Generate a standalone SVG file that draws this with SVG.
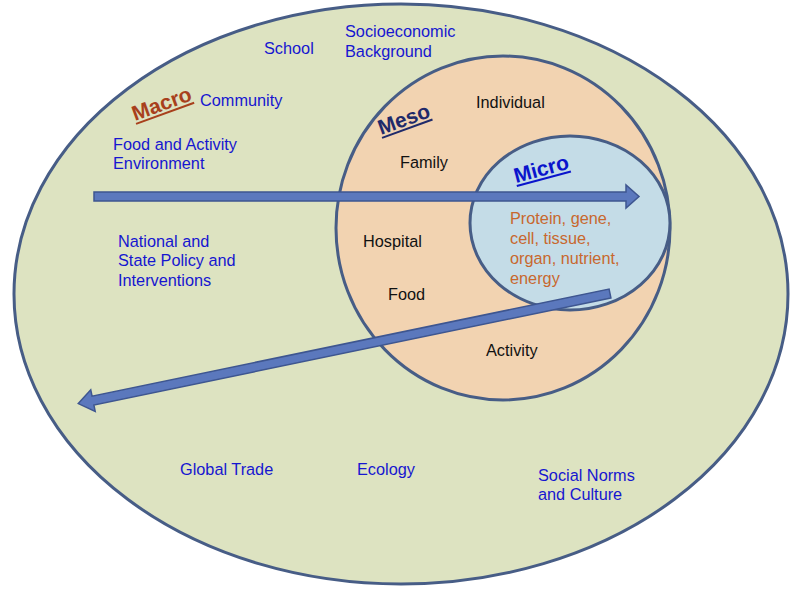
<svg xmlns="http://www.w3.org/2000/svg" width="798" height="589" viewBox="0 0 798 589">
<style>
.t{font-family:"Liberation Sans",Arial,sans-serif;font-size:16.3px}
.b{fill:#1616d0}
.k{fill:#111}
.o{fill:#c8682e}
.h{font-family:"Liberation Sans",Arial,sans-serif;font-size:21px;font-weight:bold;text-decoration:underline}
.arr{fill:#5b78bd;stroke:#3e5690;stroke-width:1.5}
.ring{stroke:#475d86;stroke-width:3}
</style>
<rect width="798" height="589" fill="#ffffff"/>
<g id="macro">
<ellipse class="ring" cx="401" cy="294" rx="387" ry="290" fill="#dde3c1"/>
<text class="h" x="0" y="0" fill="#a8401c" transform="translate(135,121) rotate(-20)">Macro</text>
<text class="t b" x="264" y="54">School</text>
<text class="t b" x="345" y="37">Socioeconomic</text>
<text class="t b" x="345" y="57">Background</text>
<text class="t b" x="200" y="106">Community</text>
<text class="t b" x="113" y="150">Food and Activity</text>
<text class="t b" x="113" y="169">Environment</text>
<text class="t b" x="118" y="247">National and</text>
<text class="t b" x="118" y="266">State Policy and</text>
<text class="t b" x="118" y="286">Interventions</text>
<text class="t b" x="180" y="475">Global Trade</text>
<text class="t b" x="357" y="475">Ecology</text>
<text class="t b" x="538" y="481">Social Norms</text>
<text class="t b" x="538" y="500">and Culture</text>
</g>
<g id="meso">
<ellipse class="ring" cx="503" cy="228" rx="167" ry="172" fill="#f2d3b1"/>
<text class="h" x="0" y="0" fill="#1f2a6a" transform="translate(381,135) rotate(-20)">Meso</text>
<text class="t k" x="476" y="108">Individual</text>
<text class="t k" x="400" y="168">Family</text>
<text class="t k" x="363" y="247">Hospital</text>
<text class="t k" x="388" y="300">Food</text>
<text class="t k" x="486" y="356">Activity</text>
</g>
<g id="micro">
<ellipse class="ring" cx="570" cy="223" rx="100" ry="87" fill="#c4dce7"/>
<text class="h" x="0" y="0" fill="#0a14cc" transform="translate(516,183) rotate(-15)">Micro</text>
<text class="t o" x="510" y="224">Protein, gene,</text>
<text class="t o" x="510" y="244">cell, tissue,</text>
<text class="t o" x="510" y="264">organ, nutrient,</text>
<text class="t o" x="510" y="284">energy</text>
</g>
<g id="connectors">
<polygon class="arr" points="94,192 626,192 626,185 639,196.5 626,208 626,201 94,201"/>
<polygon class="arr" transform="translate(610,293.5) rotate(168.3)" points="0,-4.5 528,-4.5 528,-11 543,0 528,11 528,4.5 0,4.5"/>
</g>
</svg>
